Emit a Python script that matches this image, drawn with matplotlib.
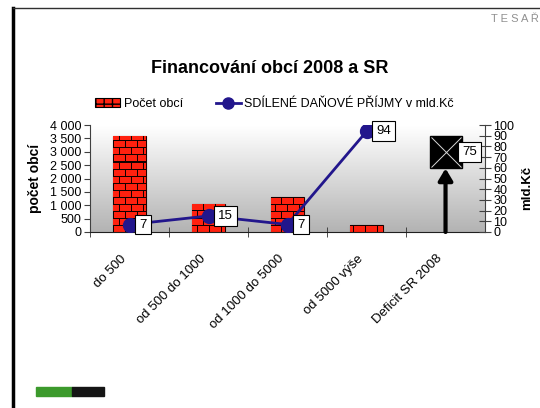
import numpy as np
import matplotlib
matplotlib.use('Agg')
import matplotlib.pyplot as plt
from matplotlib.lines import Line2D
from matplotlib.patches import Patch, Rectangle
from matplotlib.ticker import FuncFormatter
from matplotlib.transforms import ScaledTranslation

categories = ['do 500', 'od 500 do 1000', 'od 1000 do 5000', 'od 5000 výše', 'Deficit SR 2008']
pocet_obci = [3600, 1050, 1300, 260]
sdilene_prijmy = [7, 15, 7, 94]
deficit_sr = 75

navy = '#22168c'
brick_red = '#ff2412'

plt.rcParams['font.family'] = ['Liberation Sans', 'DejaVu Sans']


def brick_texture(w, h, bw=12, bh=7):
    # red bricks with dark mortar, one pixel per screen pixel
    img = np.zeros((h, w, 3))
    img[:] = (1.0, 0.13, 0.06)
    yy, xx = np.mgrid[0:h, 0:w]
    row = yy // bh
    off = np.where(row % 2 == 1, bw // 2, 0)
    mortar = (yy % bh == bh - 1) | ((xx + off) % bw == bw - 1)
    img[mortar] = (0.08, 0.0, 0.0)
    return img


fig = plt.figure(figsize=(5.4, 4.08), dpi=100)
ax = fig.add_axes([0.1667, 0.4314, 0.7315, 0.2622])
ax2 = ax.twinx()

x = np.arange(len(categories))
xlim = (-0.5, len(categories) - 0.5)

# background gradient of the plot area
grad = np.linspace(0.70, 1.0, 256)[:, None]
ax.imshow(grad, extent=(xlim[0], xlim[1], 0, 4000), origin='lower', aspect='auto',
          cmap='gray', vmin=0, vmax=1, zorder=0)

# bars with brick texture
bars = ax.bar(x[:len(pocet_obci)], pocet_obci, width=0.41, color=brick_red,
              edgecolor='#200000', linewidth=0.8, zorder=2)
tex = brick_texture(395, 107)
for b in bars:
    im = ax.imshow(tex, extent=(xlim[0], xlim[1], 0, 4000), origin='lower',
                   aspect='auto', interpolation='nearest', zorder=2.1)
    im.set_clip_path(b)

ax.set_xlim(*xlim)
ax.set_ylim(0, 4000)
ax.set_yticks(range(0, 4001, 500))
ax.yaxis.set_major_formatter(FuncFormatter(lambda v, p: f"{int(v):,}".replace(',', ' ')))
ax.tick_params(axis='y', direction='out', length=4, labelsize=9, pad=2, color='#404040')
ax.set_xticks(x)
ax.set_xticklabels(categories, rotation=45, ha='right', va='center',
                   rotation_mode='anchor', fontsize=9.5)
ax.tick_params(axis='x', which='major', length=0, pad=18)
ax.set_xticks(np.arange(-0.5, 4.0, 1), minor=True)
ax.tick_params(axis='x', which='minor', direction='inout', length=7, color='#303030')
for lbl in ax.get_xticklabels():
    lbl.set_transform(lbl.get_transform() + ScaledTranslation(-0.05, 0, fig.dpi_scale_trans))

ax.spines['top'].set_visible(False)
ax.spines['right'].set_visible(False)
ax.spines['left'].set_color('#404040')
ax.spines['bottom'].set_color('#202020')

# line on secondary axis
ax2.plot(x[:len(sdilene_prijmy)], sdilene_prijmy, color=navy, lw=2, marker='o', ms=10, zorder=3)
for i, v in enumerate(sdilene_prijmy):
    ax2.annotate(str(v), (i, v), xytext=(7, 0), textcoords='offset points',
                 ha='left', va='center', fontsize=9.5, zorder=5,
                 bbox=dict(boxstyle='square,pad=0.3', fc='white', ec='black', lw=0.8))

# deficit marker with arrow
ax2.annotate('', xy=(4, deficit_sr), xytext=(4, 0),
             arrowprops=dict(arrowstyle='-|>,head_width=0.3,head_length=0.5', lw=3,
                             color='black', shrinkA=0, shrinkB=12, mutation_scale=14),
             zorder=3)
ax2.plot(4, deficit_sr, marker='s', ms=23, color='black', zorder=4)
ax2.plot(4, deficit_sr, marker='x', ms=21, mew=0.7, color='#d8d8d8', zorder=4.1)
ax2.annotate(str(deficit_sr), (4, deficit_sr), xytext=(12, 0), textcoords='offset points',
             ha='left', va='center', fontsize=9.5, zorder=5,
             bbox=dict(boxstyle='square,pad=0.3', fc='white', ec='black', lw=0.8))

ax2.set_ylim(0, 100)
ax2.set_yticks(range(0, 101, 10))
ax2.tick_params(axis='y', direction='inout', length=8, labelsize=9, pad=2, color='#404040')
for s in ['top', 'left', 'bottom']:
    ax2.spines[s].set_visible(False)
ax2.spines['right'].set_color('#404040')

# legend
handles = [Patch(facecolor=brick_red, edgecolor='black', hatch='++', linewidth=0.8),
           Line2D([], [], color=navy, lw=2, marker='o', ms=8)]
labels = ['Počet obcí', 'SDÍLENÉ DAŇOVÉ PŘÍJMY v mld.Kč']
ax2.legend(handles, labels, loc='center left', bbox_to_anchor=(0.176, 0.745),
           bbox_transform=fig.transFigure, ncol=2, frameon=False, fontsize=9,
           handlelength=2.0, handletextpad=0.3, columnspacing=2.6,
           borderpad=0, borderaxespad=0)

# titles and axis labels
fig.text(0.5, 0.833, 'Financování obcí 2008 a SR', ha='center', va='center',
         fontsize=13, fontweight='bold')
fig.text(0.065, 0.563, 'počet obcí', rotation=90, ha='center', va='center',
         fontsize=10, fontweight='bold')
fig.text(0.976, 0.539, 'mld.Kč', rotation=90, ha='center', va='center',
         fontsize=9.5, fontweight='bold')

# slide decorations
fig.add_artist(Line2D([0.024, 0.024], [0, 0.981], lw=2.5, color='black'))
fig.add_artist(Line2D([0.024, 1.0], [0.980, 0.980], lw=1, color='#303030'))
fig.text(0.998, 0.953, 'T E S A Ř', ha='right', va='center', fontsize=8, color='#909090')
fig.add_artist(Rectangle((36 / 540, 1 - 396 / 408), 36 / 540, 9 / 408,
                         transform=fig.transFigure, color='#3c9a2c'))
fig.add_artist(Rectangle((72 / 540, 1 - 396 / 408), 32 / 540, 9 / 408,
                         transform=fig.transFigure, color='#151515'))

fig.savefig('out.png', dpi=100)
